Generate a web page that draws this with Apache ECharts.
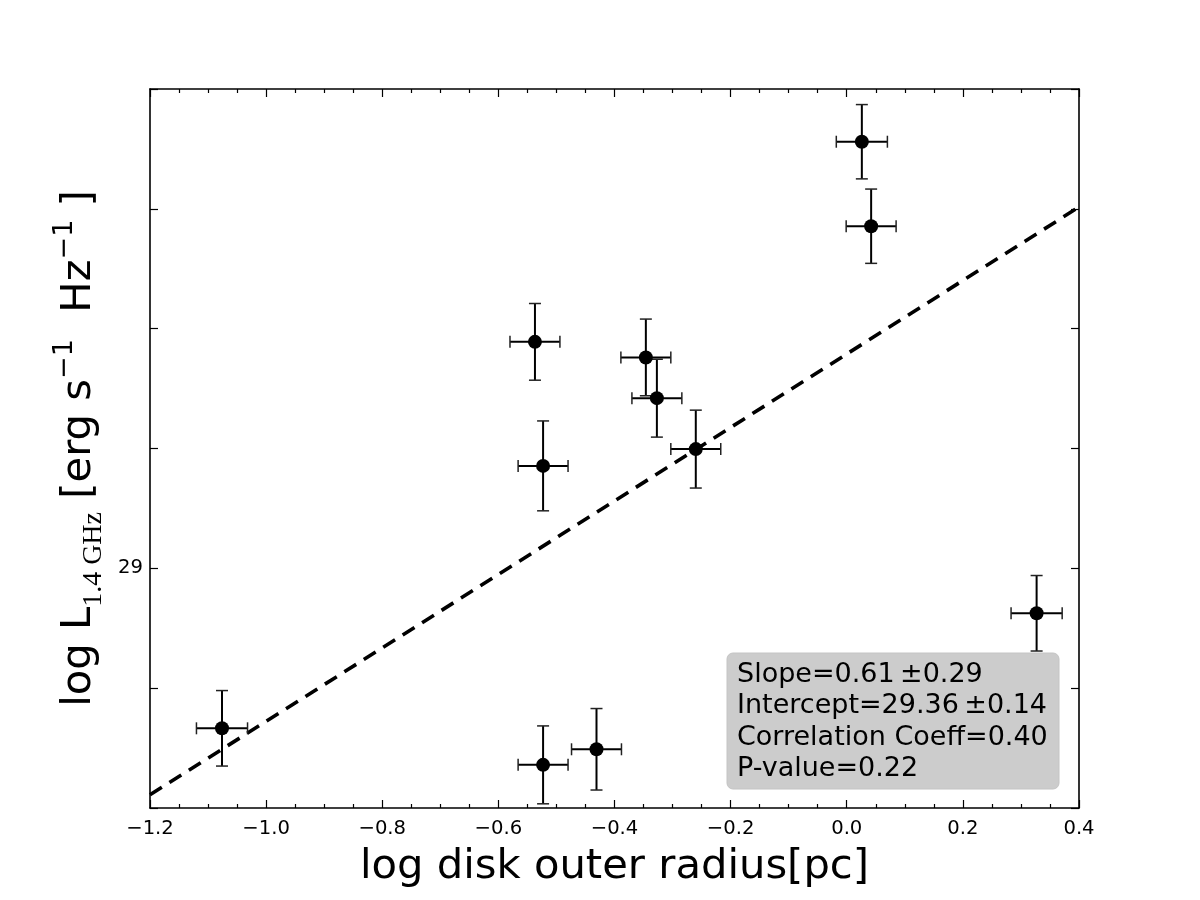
<!DOCTYPE html>
<html>
<head>
<meta charset="utf-8">
<script src="https://cdn.jsdelivr.net/npm/echarts@6/dist/echarts.min.js"></script>
<style>html,body{margin:0;padding:0;background:#fff;}#c{width:1200px;height:900px;}</style>
</head>
<body>
<div id="c"></div>
<script>
// ---- data ----
const xVals = [-1.076, -0.523, -0.431, -0.537, -0.523, -0.346, -0.327, -0.260, 0.026, 0.042, 0.327];
const yVals = [28.733, 28.672, 28.698, 29.378, 29.171, 29.352, 29.284, 29.199, 29.712, 29.571, 28.925];
const xErr  = [0.044, 0.043, 0.043, 0.043, 0.043, 0.043, 0.043, 0.043, 0.044, 0.043, 0.044];
const yErr  = [0.063, 0.065, 0.068, 0.064, 0.075, 0.064, 0.065, 0.065, 0.062, 0.062, 0.063];
const fitX = [-1.2, 0.4];
const fitY = [28.622, 29.603];
const statLines = ['Slope=0.61\u2009\u00b10.29', 'Intercept=29.36\u2009\u00b10.14', 'Correlation Coeff=0.40', 'P-value=0.22'];
const xTickMin = -1.2, xTickMax = 0.4, xTickStep = 0.2;
const yTickMin = 28.6, yTickMax = 29.8, yTickStep = 0.2;
const yLabeled = [29];

const FONT = 'DejaVu Sans';
const pts = xVals.map((x, i) => [x, yVals[i]]);
const errs = xVals.map((x, i) => [x, yVals[i], xErr[i], yErr[i]]);
const fitData = fitX.map((x, i) => [x, fitY[i]]);

function xFmt(v) {
  const r = Math.round(v * 10) / 10;
  const s = (Math.abs(r) < 1e-9 ? 0 : r).toFixed(1);
  return s.replace('-', '\u2212');
}
function yFmt(v) {
  for (const t of yLabeled) if (Math.abs(v - t) < 1e-6) return String(t);
  return '';
}

const axisLineStyle = { color: '#000', width: 1.6 };
const tickStyle = { color: '#000', width: 1.2 };

const chart = echarts.init(document.getElementById('c'), null, { renderer: 'canvas' });
chart.setOption({
  animation: false,
  backgroundColor: '#fff',
  grid: { left: 150, right: 121, top: 89, bottom: 92, containLabel: false },
  xAxis: [
    {
      type: 'value', position: 'bottom', min: xTickMin, max: xTickMax, interval: xTickStep,
      axisLine: { show: true, onZero: false, lineStyle: axisLineStyle },
      axisTick: { show: true, inside: true, length: 8, lineStyle: tickStyle },
      minorTick: { show: true, splitNumber: 4, length: 4, lineStyle: tickStyle },
      splitLine: { show: false },
      axisLabel: { show: true, formatter: xFmt, color: '#000', fontFamily: FONT, fontSize: 19.6, margin: 11 },
      name: 'log disk outer radius[pc]', nameLocation: 'middle', nameGap: 38,
      nameTextStyle: { color: '#000', fontFamily: FONT, fontSize: 41.7 }
    },
    {
      type: 'value', position: 'top', min: xTickMin, max: xTickMax, interval: xTickStep,
      axisLine: { show: true, onZero: false, lineStyle: axisLineStyle },
      axisTick: { show: true, inside: true, length: 8, lineStyle: tickStyle },
      minorTick: { show: true, splitNumber: 4, length: 4, lineStyle: tickStyle },
      splitLine: { show: false },
      axisLabel: { show: false }
    }
  ],
  yAxis: [
    {
      type: 'value', position: 'left', min: yTickMin, max: yTickMax, interval: yTickStep,
      axisLine: { show: true, onZero: false, lineStyle: axisLineStyle },
      axisTick: { show: true, inside: true, length: 8, lineStyle: tickStyle },
      splitLine: { show: false },
      axisLabel: { show: true, formatter: yFmt, color: '#000', fontFamily: FONT, fontSize: 19.6, margin: 7 },
      name: '{m|log L}{sub|1.4 GHz}{m| [erg s}{sup|\u22121}{m|  Hz}{sup|\u22121}{m| ]}',
      nameLocation: 'middle', nameRotate: 90, nameGap: 40,
      nameTextStyle: {
        color: '#000', fontFamily: FONT, fontSize: 41.7,
        rich: {
          m: { fontFamily: FONT, fontSize: 41.7, lineHeight: 56, color: '#000' },
          sub: { fontFamily: 'Liberation Serif', fontSize: 28, lineHeight: 18, verticalAlign: 'bottom', color: '#000' },
          sup: { fontFamily: FONT, fontSize: 27, lineHeight: 26, verticalAlign: 'top', color: '#000' }
        }
      }
    },
    {
      type: 'value', position: 'right', min: yTickMin, max: yTickMax, interval: yTickStep,
      axisLine: { show: true, onZero: false, lineStyle: axisLineStyle },
      axisTick: { show: true, inside: true, length: 8, lineStyle: tickStyle },
      splitLine: { show: false },
      axisLabel: { show: false }
    }
  ],
  series: [
    {
      type: 'line', xAxisIndex: 0, yAxisIndex: 0, data: fitData, symbol: 'none',
      lineStyle: { color: '#000', width: 3.6, type: [14, 9] }, z: 3, silent: true
    },
    {
      type: 'custom', xAxisIndex: 0, yAxisIndex: 0, data: errs,
      encode: { x: 0, y: 1 }, z: 4, silent: true,
      renderItem: function (params, api) {
        const x = api.value(0), y = api.value(1), xe = api.value(2), ye = api.value(3);
        const l = api.coord([x - xe, y]), r = api.coord([x + xe, y]);
        const t = api.coord([x, y + ye]), b = api.coord([x, y - ye]);
        const cap = 6;
        const bar = { stroke: '#000', lineWidth: 2 };
        const capS = { stroke: '#222', lineWidth: 1.5 };
        return {
          type: 'group',
          children: [
            { type: 'line', shape: { x1: l[0], y1: l[1], x2: r[0], y2: r[1] }, style: bar },
            { type: 'line', shape: { x1: t[0], y1: t[1], x2: b[0], y2: b[1] }, style: bar },
            { type: 'line', shape: { x1: l[0], y1: l[1] - cap, x2: l[0], y2: l[1] + cap }, style: capS },
            { type: 'line', shape: { x1: r[0], y1: r[1] - cap, x2: r[0], y2: r[1] + cap }, style: capS },
            { type: 'line', shape: { x1: t[0] - cap, y1: t[1], x2: t[0] + cap, y2: t[1] }, style: capS },
            { type: 'line', shape: { x1: b[0] - cap, y1: b[1], x2: b[0] + cap, y2: b[1] }, style: capS }
          ]
        };
      }
    },
    {
      type: 'scatter', xAxisIndex: 0, yAxisIndex: 0, data: pts, symbol: 'circle', symbolSize: 14,
      itemStyle: { color: '#000', opacity: 1 }, z: 5, silent: true
    }
  ],
  graphic: [
    {
      type: 'group', z: 100,
      children: [
        { type: 'rect', shape: { x: 727, y: 653, width: 332, height: 136, r: 6 },
          style: { fill: '#cccccc', stroke: '#c4c4c4', lineWidth: 1 } },
        { type: 'text', x: 737, y: 659,
          style: { text: statLines.join('\n'), font: '27px "DejaVu Sans"', lineHeight: 31.5, fill: '#000', textVerticalAlign: 'top' } }
      ]
    }
  ]
});
</script>
</body>
</html>
